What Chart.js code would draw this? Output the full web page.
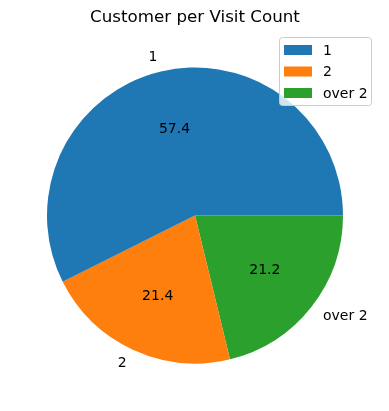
<!DOCTYPE html>
<html>
<head>
<meta charset="utf-8">
<script src="https://cdn.jsdelivr.net/npm/chart.js@4.4.0/dist/chart.umd.min.js"></script>
<style>
  html, body { margin: 0; padding: 0; background: #fff; }
  #wrap { width: 389px; height: 411px; }
</style>
</head>
<body>
<div id="wrap"><canvas id="pieChart" width="389" height="411"></canvas></div>
<script>
// Data (matplotlib order: counterclockwise from 3 o'clock)
const categories = ['1', '2', 'over 2'];
const shares = [57.4, 21.4, 21.2];
const colors = ['#1f77b4', '#ff7f0e', '#2ca02c'];
const chartTitle = 'Customer per Visit Count';

// Chart.js draws clockwise, so feed it reversed to mimic matplotlib
const revLabels = categories.slice().reverse();
const revData = shares.slice().reverse();
const revColors = colors.slice().reverse();

const FONT = '"DejaVu Sans", sans-serif';

const pieText = {
  id: 'pieText',
  afterDraw(chart) {
    const ctx = chart.ctx;
    const arcs = chart.getDatasetMeta(0).data;
    ctx.save();
    ctx.fillStyle = '#000';
    ctx.textBaseline = 'middle';
    arcs.forEach((arc, i) => {
      const mid = (arc.startAngle + arc.endAngle) / 2;
      const r = arc.outerRadius;
      const c = Math.cos(mid), s = Math.sin(mid);
      // outside label
      ctx.font = '14px ' + FONT;
      ctx.textAlign = c > 0 ? 'left' : 'right';
      ctx.fillText(revLabels[i], arc.x + 1.1 * r * c, arc.y + 1.1 * r * s);
      // value label
      ctx.textAlign = 'center';
      ctx.fillText(revData[i].toFixed(1), arc.x + 0.6 * r * c, arc.y + 0.6 * r * s);
    });

    // title
    ctx.font = '16.7px ' + FONT;
    ctx.textAlign = 'center';
    ctx.fillText(chartTitle, 195, 18);

    // legend (matplotlib style, upper right)
    const lx = 279.5, ly = 37.5, lw = 92, lh = 68;
    ctx.beginPath();
    ctx.roundRect(lx, ly, lw, lh, 3);
    ctx.fillStyle = 'rgba(255,255,255,0.8)';
    ctx.fill();
    ctx.strokeStyle = '#cccccc';
    ctx.lineWidth = 1;
    ctx.stroke();
    ctx.font = '14px ' + FONT;
    ctx.textAlign = 'left';
    categories.forEach((cat, i) => {
      const y = 50 + i * 21.5;
      ctx.fillStyle = colors[i];
      ctx.fillRect(284, y - 5, 28, 10);
      ctx.fillStyle = '#000';
      ctx.fillText(cat, 323, y + 1);
    });
    ctx.restore();
  }
};

new Chart(document.getElementById('pieChart').getContext('2d'), {
  type: 'pie',
  data: {
    labels: revLabels,
    datasets: [{
      data: revData,
      backgroundColor: revColors,
      borderWidth: 0
    }]
  },
  options: {
    responsive: false,
    animation: false,
    rotation: 90,
    events: [],
    layout: {
      padding: { left: 47, right: 46, top: 67.5, bottom: 47.5 }
    },
    plugins: {
      legend: { display: false },
      title: { display: false },
      tooltip: { enabled: false }
    }
  },
  plugins: [pieText]
});
</script>
</body>
</html>
